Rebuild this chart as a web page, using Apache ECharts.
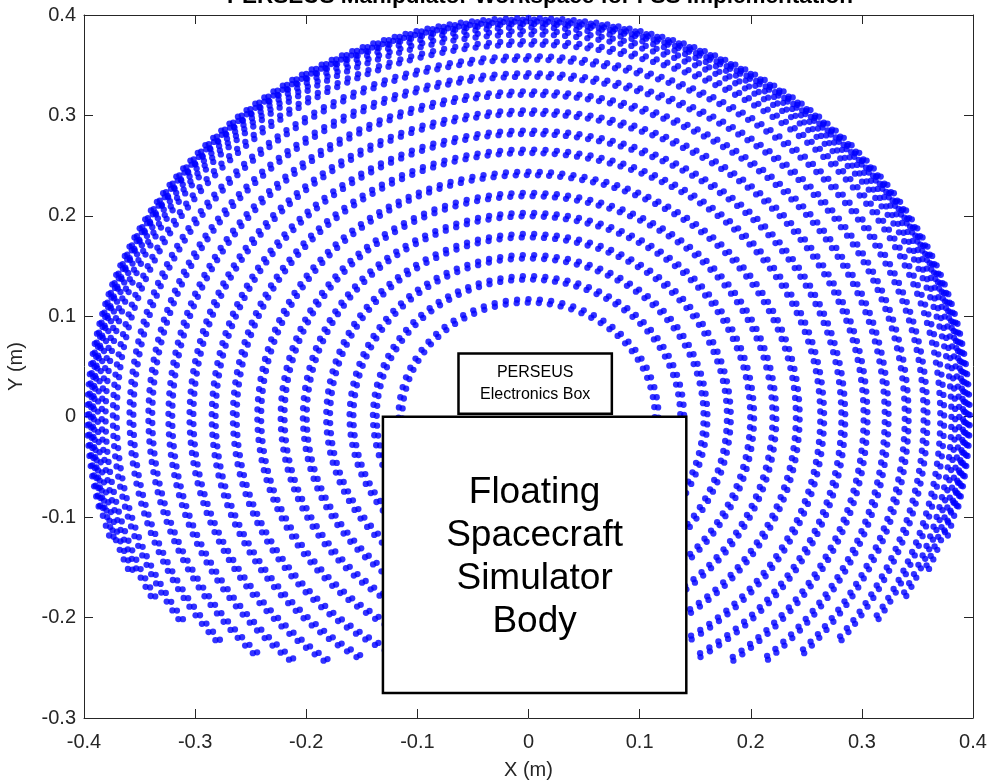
<!DOCTYPE html>
<html>
<head>
<meta charset="utf-8">
<script src="https://cdn.jsdelivr.net/npm/echarts@6/dist/echarts.min.js"></script>
<style>
html,body{margin:0;padding:0;background:#fff;overflow:hidden;}
#chart{width:995px;height:782px;}
</style>
</head>
<body>
<div id="chart"></div>
<script>
// ---- data ----
const titleText = 'PERSEUS Manipulator Workspace for FSS Implementation';
const xTicks = [-0.4, -0.3, -0.2, -0.1, 0, 0.1, 0.2, 0.3, 0.4];
const yTicks = [-0.3, -0.2, -0.1, 0, 0.1, 0.2, 0.3, 0.4];
// workspace arcs (concentric about the base at 0,0); each arc is drawn as a close pair of dot rows
const ringRadius   = [0.397, 0.3955, 0.391, 0.384, 0.374, 0.359, 0.342, 0.324, 0.305, 0.285, 0.266, 0.244, 0.223, 0.203, 0.182, 0.161, 0.140, 0.117];
const ringStartDeg = [-13, -17.4, -22.8, -27.7, -32.6, -38.3, -43.5, -48.3, -52.8, -57.1, -60.9, -65.1, -68.8, -72.3, -75.7, -79.1, -82.3, -86];
const ringEndDeg   = [193, 197.4, 202.8, 207.7, 212.6, 218.3, 223.5, 228.3, 232.8, 237.1, 240.9, 245.1, 248.8, 252.3, 255.7, 259.1, 262.3, 266];
const dotArcSpacing = 0.0102;
const pairRadialGap = 0.0034;
const pairShiftDeg = 0.35;
// annotation boxes
const boxLabels = ['Floating\nSpacecraft\nSimulator\nBody', 'PERSEUS\nElectronics Box'];
const boxX0 = [-0.131, -0.063];
const boxX1 = [0.142, 0.075];
const boxY0 = [-0.275, 0.003];
const boxY1 = [0.0, 0.063];

// ---- build points ----
const pts = [];
for (let i = 0; i < ringRadius.length; i++) {
  const r = ringRadius[i];
  const a0 = ringStartDeg[i] * Math.PI / 180, a1 = ringEndDeg[i] * Math.PI / 180;
  const n = Math.max(1, Math.round(r * (a1 - a0) / dotArcSpacing));
  const sh = pairShiftDeg * Math.PI / 180;
  for (let k = 0; k <= n; k++) {
    const a = a0 + (a1 - a0) * k / n;
    pts.push([r * Math.cos(a), r * Math.sin(a)]);
    const r2 = r - pairRadialGap;
    pts.push([r2 * Math.cos(a + sh), r2 * Math.sin(a + sh)]);
  }
}
const boxes = boxLabels.map((l, i) => [boxX0[i], boxX1[i], boxY0[i], boxY1[i], i]);

const FONT = 'Liberation Sans, Arial, Helvetica, sans-serif';
const fmt = v => String(Math.round(v * 10) / 10);
const axisCol = '#262626';

const chart = echarts.init(document.getElementById('chart'), null, {renderer: 'canvas', width: 995, height: 782});
chart.setOption({
  animation: false,
  backgroundColor: '#ffffff',
  title: {
    text: titleText, left: 222, top: -20,
    textStyle: {fontFamily: FONT, fontSize: 22.5, fontWeight: 'bold', color: '#000'}
  },
  grid: {left: 84, right: 22, top: 15, bottom: 64, containLabel: false, outerBoundsMode: 'none'},
  xAxis: [{
    type: 'value', min: -0.4, max: 0.4, interval: 0.1, position: 'bottom',
    name: 'X (m)', nameLocation: 'middle', nameGap: 42,
    nameTextStyle: {fontFamily: FONT, fontSize: 20, color: '#262626'},
    axisLine: {show: true, onZero: false, lineStyle: {color: axisCol, width: 1}},
    axisTick: {show: true, inside: true, length: 9, lineStyle: {color: axisCol}},
    axisLabel: {fontFamily: FONT, fontSize: 20, color: '#262626', margin: 14, formatter: fmt},
    splitLine: {show: false}
  }, {
    type: 'value', min: -0.4, max: 0.4, interval: 0.1, position: 'top',
    axisLine: {show: true, onZero: false, lineStyle: {color: axisCol, width: 1}},
    axisTick: {show: true, inside: true, length: 9, lineStyle: {color: axisCol}},
    axisLabel: {show: false}, splitLine: {show: false}
  }],
  yAxis: [{
    type: 'value', min: -0.3, max: 0.4, interval: 0.1, position: 'left',
    name: 'Y (m)', nameLocation: 'middle', nameGap: 58, nameRotate: 90,
    nameTextStyle: {fontFamily: FONT, fontSize: 20, color: '#262626'},
    axisLine: {show: true, onZero: false, lineStyle: {color: axisCol, width: 1}},
    axisTick: {show: true, inside: true, length: 9, lineStyle: {color: axisCol}},
    axisLabel: {fontFamily: FONT, fontSize: 20, color: '#262626', margin: 8, formatter: fmt},
    splitLine: {show: false}
  }, {
    type: 'value', min: -0.3, max: 0.4, interval: 0.1, position: 'right',
    axisLine: {show: true, onZero: false, lineStyle: {color: axisCol, width: 1}},
    axisTick: {show: true, inside: true, length: 9, lineStyle: {color: axisCol}},
    axisLabel: {show: false}, splitLine: {show: false}
  }],
  series: [{
    type: 'scatter', data: pts, symbol: 'circle', symbolSize: 6.3,
    itemStyle: {color: '#0000ff'}, z: 2, silent: true
  }, {
    type: 'custom', data: boxes, z: 10, silent: true, clip: false,
    renderItem: function (params, api) {
      const p0 = api.coord([api.value(0), api.value(3)]);
      const p1 = api.coord([api.value(1), api.value(2)]);
      const idx = api.value(4);
      const big = idx === 0;
      return {
        type: 'group',
        children: [{
          type: 'rect',
          shape: {x: p0[0], y: p0[1], width: p1[0] - p0[0], height: p1[1] - p0[1]},
          style: {fill: '#fff', stroke: '#000', lineWidth: 2.5}
        }, {
          type: 'text',
          style: {
            text: boxLabels[idx], x: (p0[0] + p1[0]) / 2, y: (p0[1] + p1[1]) / 2 + (big ? 2 : 0),
            align: 'center', verticalAlign: 'middle',
            fontFamily: FONT, fontSize: big ? 37 : 16, lineHeight: big ? 43 : 22, fill: '#000'
          }
        }]
      };
    }
  }]
});
</script>
</body>
</html>
